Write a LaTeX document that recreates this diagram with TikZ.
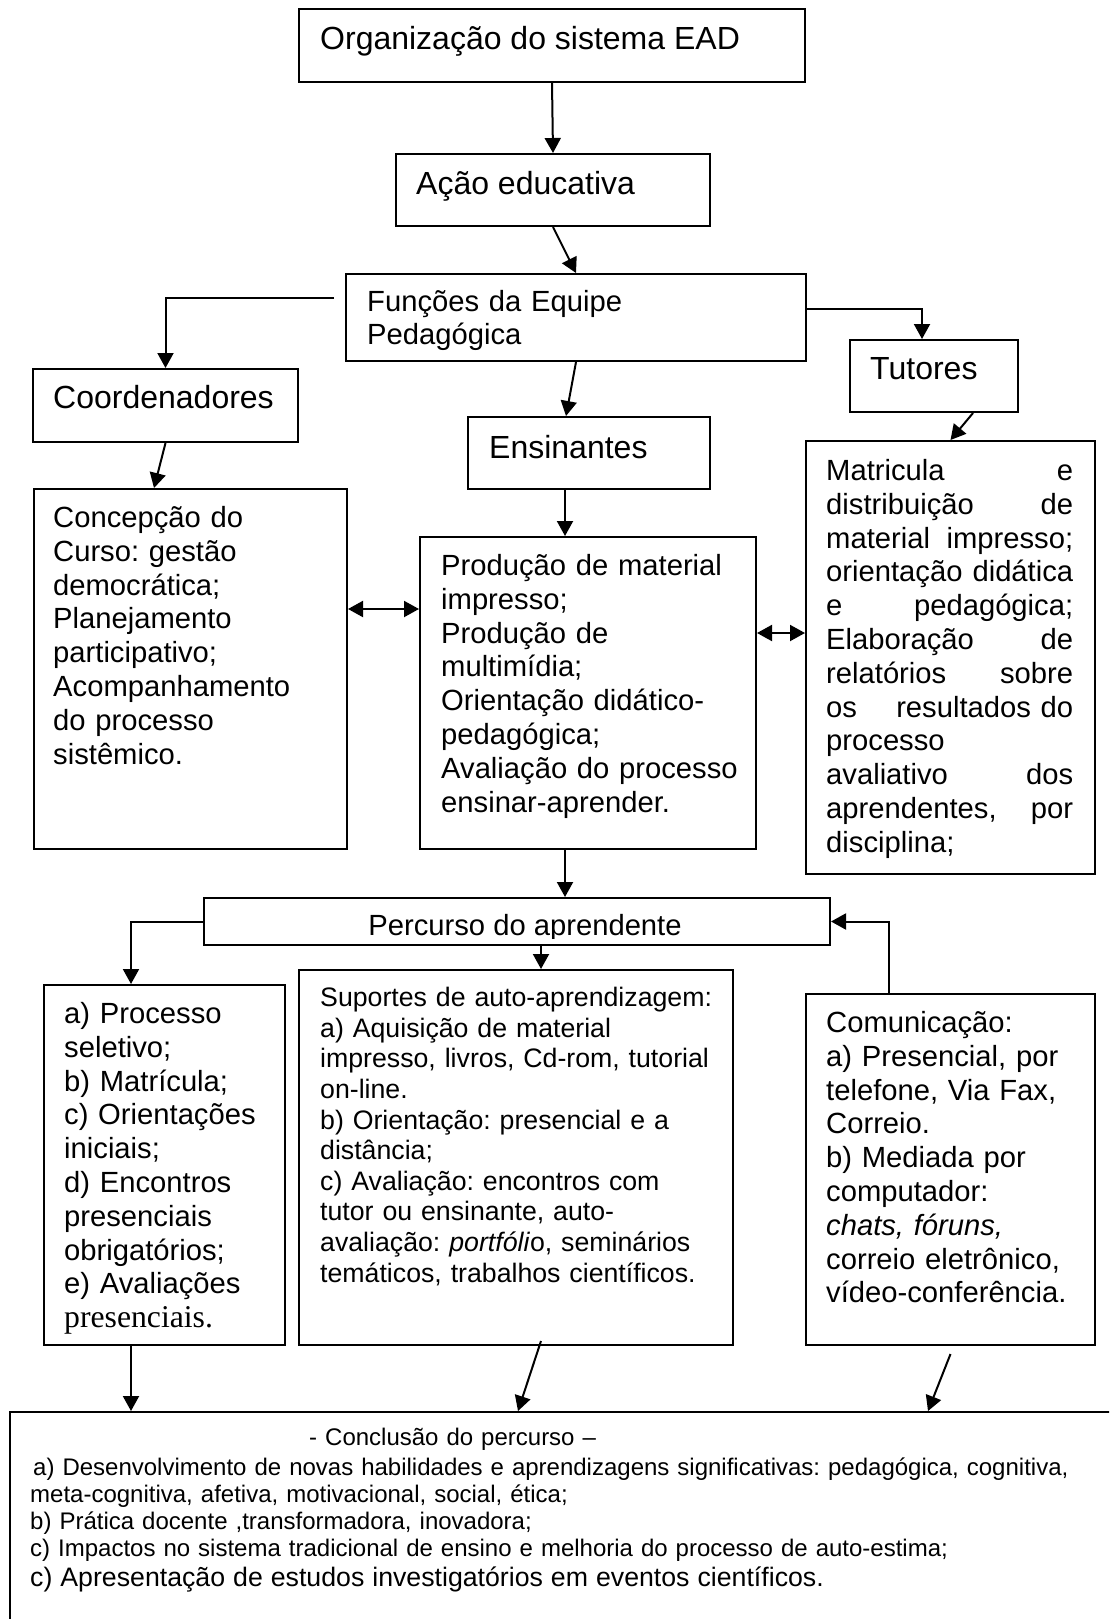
\documentclass[tikz,border=0pt]{standalone}
\usepackage{fontspec}
\setmainfont{Liberation Sans}
\newfontfamily\timesfont{Liberation Serif}
\usetikzlibrary{arrows.meta}
\frenchspacing

\newcommand{\fgrande}{\fontsize{32pt}{36pt}\selectfont}
\newcommand{\fmedia}{\fontsize{29.2pt}{33.8pt}\selectfont}
\newcommand{\fsup}{\fontsize{26.7pt}{30.6pt}\selectfont}
\newcommand{\fpeq}{\fontsize{24pt}{27pt}\selectfont}

\tikzset{
  caixa/.style={draw, line width=2pt, inner sep=0pt, anchor=north west},
  texto/.style={inner sep=0pt, anchor=base west, align=left},
  seta/.style={line width=2pt, -{Triangle[length=15pt,width=16pt]}},
  dupla/.style={line width=2pt, {Triangle[length=15pt,width=16pt]}-{Triangle[length=15pt,width=16pt]}}
}

\begin{document}
\begin{tikzpicture}[x=1pt,y=-1pt]
\useasboundingbox (0,0) rectangle (1109,1619);
\clip (0,0) rectangle (1109,1619);

\node[caixa, minimum width=506pt, minimum height=73pt] (org) at (298,8) {};
\node[caixa, minimum width=314pt, minimum height=72pt] (acao) at (395,153) {};
\node[caixa, minimum width=460pt, minimum height=87pt] (func) at (345,273) {};
\node[caixa, minimum width=265pt, minimum height=73pt] (coord) at (32,368) {};
\node[caixa, minimum width=168pt, minimum height=72pt] (tut) at (849,339) {};
\node[caixa, minimum width=242pt, minimum height=72pt] (ens) at (467,416) {};
\node[caixa, minimum width=313pt, minimum height=360pt] (conc) at (33,488) {};
\node[caixa, minimum width=336pt, minimum height=312pt] (prod) at (419,536) {};
\node[caixa, minimum width=289pt, minimum height=433pt] (mat) at (805,440) {};
\node[caixa, minimum width=626pt, minimum height=47pt] (perc) at (203,897) {};
\node[caixa, minimum width=241pt, minimum height=360pt] (proc) at (43,984) {};
\node[caixa, minimum width=434pt, minimum height=375pt] (sup) at (298,969) {};
\node[caixa, minimum width=289pt, minimum height=351pt] (com) at (805,993) {};
\node[caixa, minimum width=1121pt, minimum height=229pt] (concl) at (8.5,1411) {};

\node[texto, font=\fgrande] (torg) at (320,49) {Organização do sistema EAD};
\node[texto, font=\fgrande] (tacao) at (416,194) {Ação educativa};
\node[texto, font=\fmedia, text width=420pt] (tfunc) at (367,311) {Funções da Equipe\\Pedagógica};
\node[texto, font=\fgrande] (tcoord) at (53,408) {Coordenadores};
\node[texto, font=\fgrande] (ttut) at (870,379) {Tutores};
\node[texto, font=\fgrande] (tens) at (489,458) {Ensinantes};
\node[texto, font=\fmedia, text width=280pt] (tconc) at (53,527.5) {Concepção do\\Curso: gestão\\democrática;\\Planejamento\\participativo;\\Acompanhamento\\do processo\\sistêmico.};
\node[texto, font=\fmedia, text width=310pt] (tprod) at (441,575.5) {Produção de material\\impresso;\\Produção de\\multimídia;\\Orientação didático-\\pedagógica;\\Avaliação do processo\\ensinar-aprender.};
\node[texto, font=\fmedia, text width=247pt] (tmat) at (826,480.5) {Matricula\hfill e\\distribuição\hfill de\\material\hfill impresso;\\orientação\hfill didática\\e\hfill pedagógica;\\Elaboração\hfill de\\relatórios\hfill sobre\\os\hfill resultados do\\processo\\avaliativo\hfill dos\\aprendentes,\hfill por\\disciplina;};
\begin{scope}
\clip (203,897) rectangle (829,938);
\node[inner sep=0pt, anchor=base, font=\fmedia] (tperc) at (525,935.5) {Percurso do aprendente};
\end{scope}
\node[texto, font=\fmedia, text width=215pt] (tproc) at (64,1023.5) {a) Processo\\seletivo;\\b) Matrícula;\\c) Orientações\\iniciais;\\d) Encontros\\presenciais\\obrigatórios;\\e) Avaliações\\{\timesfont\fontsize{31.7pt}{33.9pt}\selectfont presenciais.}};
\node[texto, font=\fsup, text width=405pt] (tsup) at (320,1006.6) {Suportes de auto-aprendizagem:\\a) Aquisição de material\\impresso, livros, Cd-rom, tutorial\\on-line.\\b) Orientação: presencial e a\\distância;\\c) Avaliação: encontros com\\tutor ou ensinante, auto-\\avaliação: \textit{portfóli}o, seminários\\temáticos, trabalhos científicos.};
\node[texto, font=\fmedia, text width=262pt] (tcom) at (826,1032.5) {Comunicação:\\a) Presencial, por\\telefone, Via Fax,\\Correio.\\b) Mediada por\\computador:\\\textit{chats, fóruns,}\\correio eletrônico,\\vídeo-conferência.};
\node[texto, font=\fpeq, text width=1075pt] (tconcl) at (30,1445.6) {\hspace*{279pt}- Conclusão do percurso –\\[3pt]\hspace*{3pt}a) Desenvolvimento de novas habilidades e aprendizagens significativas: pedagógica, cognitiva,\\meta-cognitiva, afetiva, motivacional, social, ética;\\b) Prática docente ,transformadora, inovadora;\\c) Impactos no sistema tradicional de ensino e melhoria do processo de auto-estima;\\[3pt]{\fsup c) Apresentação de estudos investigatórios em eventos científicos.}};

\draw[seta] (org.south) -- (acao.north);
\draw[seta] (acao.south) -- (func.north);
\draw[seta] ([xshift=-11pt,yshift=19.5pt]func.west) -| (coord.north);
\draw[seta] ([yshift=8.5pt]func.east) -| ([xshift=-12pt]tut.north);
\draw[seta] (func.south) -- ([xshift=-23pt]ens.north);
\draw[seta] (coord.south) -- ([xshift=-36.5pt]conc.north);
\draw[seta] ([xshift=39pt]tut.south) -- (mat.north);
\draw[seta] ([xshift=-24pt]ens.south) -- ([xshift=-24pt]ens.south |- prod.north);
\draw[dupla] ([yshift=60pt]conc.east) -- ([yshift=60pt]conc.east -| prod.west);
\draw[dupla] ([yshift=60pt]prod.east) -- ([yshift=60pt]prod.east -| mat.west);
\draw[seta] ([xshift=-23pt]prod.south) -- ([xshift=-23pt]prod.south |- perc.north);
\draw[seta] (perc.west) -| ([xshift=-33.5pt]proc.north);
\draw[seta] ([xshift=24pt]perc.south) -- ([xshift=24pt]perc.south |- sup.north);
\draw[seta] ([xshift=-61.5pt]com.north) |- (perc.east);
\draw[seta] ([xshift=-33.5pt]proc.south) -- ([xshift=-33.5pt]proc.south |- concl.north);
\draw[seta] ([xshift=25pt,yshift=5pt]sup.south) -- ([xshift=-52pt]concl.north);
\draw[seta] ([yshift=-8pt]com.south) -- ([xshift=358pt]concl.north);
\end{tikzpicture}
\end{document}
